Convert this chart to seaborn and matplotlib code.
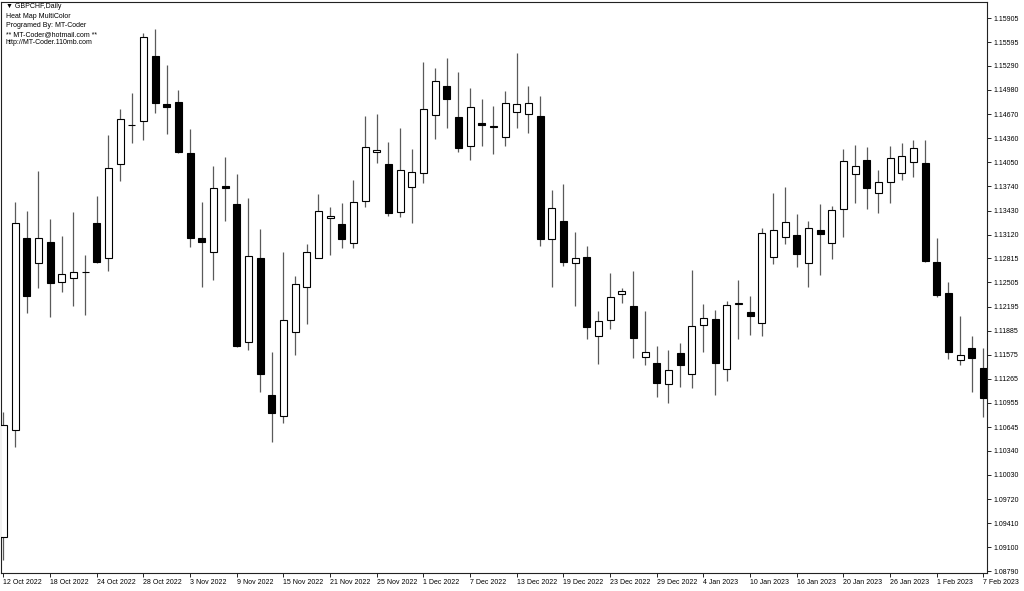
import numpy as np
import pandas as pd
import matplotlib
matplotlib.use("Agg")
import matplotlib.pyplot as plt
import seaborn as sns

# ---------------- data (GBPCHF daily) ----------------
start_date = "2022-10-12"
n_bars = 85

opens = [1.09232, 1.10608, 1.13073, 1.12751, 1.13029, 1.12507, 1.12558, 1.12643, 1.13273, 1.12815,
         1.14028, 1.14535, 1.14577, 1.15420, 1.14799, 1.14821, 1.14173, 1.13073, 1.12893, 1.13749,
         1.13510, 1.11743, 1.12823, 1.11058, 1.10792, 1.11872, 1.12450, 1.12823, 1.13330, 1.13253,
         1.13016, 1.13552, 1.14178, 1.14028, 1.13407, 1.13728, 1.13916, 1.14658, 1.15031, 1.14628,
         1.14263, 1.14559, 1.14513, 1.14371, 1.14700, 1.14667, 1.14649, 1.13060, 1.13295, 1.12751,
         1.12828, 1.11820, 1.12022, 1.12353, 1.12206, 1.11543, 1.11466, 1.11196, 1.11594, 1.11324,
         1.11958, 1.12035, 1.11388, 1.12224, 1.12121, 1.11987, 1.12836, 1.13085, 1.13115, 1.12751,
         1.13179, 1.13016, 1.13445, 1.13899, 1.14079, 1.13659, 1.13793, 1.13908, 1.14050, 1.14037,
         1.12764, 1.12373, 1.11508, 1.11658, 1.11401]
highs = [1.10839, 1.13543, 1.13427, 1.13938, 1.13317, 1.13102, 1.13407, 1.12858, 1.13616, 1.14401,
         1.14731, 1.14937, 1.15716, 1.15760, 1.15301, 1.14979, 1.14474, 1.13543, 1.14006, 1.14122,
         1.13899, 1.13595, 1.13188, 1.11615, 1.12900, 1.12588, 1.12995, 1.13642, 1.13471, 1.13530,
         1.13822, 1.14645, 1.14667, 1.14315, 1.14495, 1.14221, 1.15343, 1.15258, 1.15387, 1.15215,
         1.15001, 1.14860, 1.14774, 1.14970, 1.15451, 1.15031, 1.14902, 1.13694, 1.13771, 1.13157,
         1.12974, 1.12138, 1.12623, 1.12430, 1.12652, 1.12138, 1.11688, 1.11636, 1.11723, 1.12665,
         1.12224, 1.12151, 1.12270, 1.12536, 1.12331, 1.13209, 1.13651, 1.13728, 1.13381, 1.13299,
         1.13510, 1.13488, 1.14217, 1.14272, 1.14250, 1.13951, 1.14259, 1.14294, 1.14336, 1.14336,
         1.13080, 1.12515, 1.12074, 1.11820, 1.11658]
lows = [1.08937, 1.10393, 1.12108, 1.12430, 1.12065, 1.12386, 1.12202, 1.12086, 1.12755, 1.12656,
        1.13813, 1.14302, 1.14336, 1.14680, 1.14414, 1.14169, 1.12957, 1.12443, 1.12536, 1.13295,
        1.11679, 1.11636, 1.11100, 1.10458, 1.10694, 1.11572, 1.11971, 1.12815, 1.12858, 1.12952,
        1.12944, 1.13471, 1.14037, 1.13363, 1.13343, 1.13265, 1.13780, 1.14349, 1.14487, 1.14186,
        1.14079, 1.14259, 1.14153, 1.14259, 1.14487, 1.14423, 1.12977, 1.12450, 1.12716, 1.12206,
        1.11774, 1.11453, 1.11903, 1.12245, 1.11530, 1.11444, 1.11028, 1.10951, 1.11157, 1.11144,
        1.11615, 1.11058, 1.11242, 1.11774, 1.11829, 1.11816, 1.12742, 1.12995, 1.12707, 1.12450,
        1.12601, 1.12803, 1.13093, 1.13523, 1.13445, 1.13394, 1.13523, 1.13822, 1.13865, 1.12764,
        1.12322, 1.11517, 1.11444, 1.11100, 1.10779]
closes = [1.10672, 1.13265, 1.12331, 1.13073, 1.12494, 1.12614, 1.12643, 1.12641, 1.12764, 1.13973,
          1.14606, 1.14531, 1.15657, 1.14808, 1.14757, 1.14178, 1.13073, 1.13025, 1.13723, 1.13723,
          1.11692, 1.12849, 1.11328, 1.10823, 1.12022, 1.12485, 1.12893, 1.13424, 1.13363, 1.13060,
          1.13543, 1.14250, 1.14208, 1.13394, 1.13951, 1.13921, 1.14731, 1.15095, 1.14860, 1.14237,
          1.14757, 1.14529, 1.14500, 1.14808, 1.14795, 1.14816, 1.13060, 1.13458, 1.12772, 1.12815,
          1.11936, 1.12013, 1.12322, 1.12395, 1.11787, 1.11615, 1.11208, 1.11379, 1.11444, 1.11945,
          1.12052, 1.11473, 1.12215, 1.12245, 1.12077, 1.13137, 1.13179, 1.13282, 1.12867, 1.13201,
          1.13128, 1.13436, 1.14070, 1.14006, 1.13715, 1.13793, 1.14101, 1.14135, 1.14230, 1.12781,
          1.12344, 1.11615, 1.11572, 1.11538, 1.11016]

price_labels = ["1.15905", "1.15595", "1.15290", "1.14980", "1.14670", "1.14360", "1.14050",
                "1.13740", "1.13430", "1.13120", "1.12815", "1.12505", "1.12195", "1.11885",
                "1.11575", "1.11265", "1.10955", "1.10645", "1.10340", "1.10030", "1.09720",
                "1.09410", "1.09100", "1.08790"]

header_lines = ["\u25BC GBPCHF,Daily", "Heat Map MultiColor", "Programed By: MT-Coder",
                "** MT-Coder@hotmail.com **", "http://MT-Coder.110mb.com"]

# ---------------- frame ----------------
dates = pd.bdate_range(start_date, periods=n_bars)
df = pd.DataFrame({"date": dates, "open": opens, "high": highs, "low": lows, "close": closes})
df["idx"] = np.arange(len(df))
df["bull"] = df["close"] >= df["open"]
df["body_lo"] = df[["open", "close"]].min(axis=1)
df["body_h"] = (df["close"] - df["open"]).abs().clip(lower=0.00003)

sns.set_theme(style="white")
plt.rcParams["font.family"] = ["Liberation Sans", "DejaVu Sans"]

fig = plt.figure(figsize=(10.24, 5.91), dpi=100)
ax = fig.add_axes([1 / 1024, 18 / 591, 986 / 1024, 571 / 591])

# wicks
ax.vlines(df["idx"], df["low"], df["high"], color="#5a5a5a", linewidth=0.9, zorder=2)
# bodies
ax.bar(df["idx"], df["body_h"], bottom=df["body_lo"], width=0.6,
       color=np.where(df["bull"], "white", "black"), edgecolor="black",
       linewidth=0.8, zorder=3)

ax.set_xlim(-0.2, 84.31)
ax.set_ylim(1.08769, 1.16111)

# x ticks: every 4th bar
tick_idx = df["idx"].values[::4]
tick_lbl = [f"{d.day} {d.strftime('%b %Y')}" for d in df["date"].iloc[::4]]
ax.set_xticks(tick_idx)
ax.set_xticklabels(tick_lbl)
for t in ax.get_xticklabels():
    t.set_ha("left")
ax.tick_params(axis="x", bottom=True, direction="out", length=3, width=0.6,
               pad=1, labelsize=5, colors="black")

# y ticks on the right
ax.yaxis.tick_right()
ax.set_yticks([float(v) for v in price_labels])
ax.set_yticklabels(price_labels)
ax.tick_params(axis="y", right=True, left=False, direction="out", length=3,
               width=0.6, pad=1.5, labelsize=5, colors="black")

for s in ax.spines.values():
    s.set_color("#222222")
    s.set_linewidth(0.8)
ax.grid(False)
ax.set_facecolor("white")

# header text
ys = [7, 16.5, 25.5, 34.5, 43]
for line, y in zip(header_lines, ys):
    fig.text(6 / 1024, 1 - y / 591, line, fontsize=5, va="center", ha="left", color="black")

fig.savefig("out.png", dpi=100, facecolor="white")
